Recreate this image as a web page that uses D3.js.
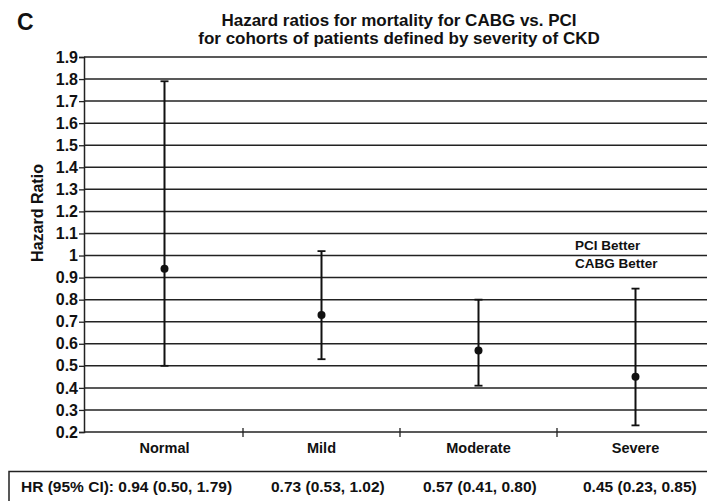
<!DOCTYPE html>
<html>
<head>
<meta charset="utf-8">
<script src="https://cdn.jsdelivr.net/npm/d3@7"></script>
<style>
  body { margin: 0; background: #fff; }
  text { font-family: "Liberation Sans", Arial, sans-serif; font-weight: bold; fill: #111; }
</style>
</head>
<body>
<div id="chart"></div>
<script>
// chart data
var categories = ["Normal", "Mild", "Moderate", "Severe"];
var hr = [0.94, 0.73, 0.57, 0.45];
var lower = [0.50, 0.53, 0.41, 0.23];
var upper = [1.79, 1.02, 0.80, 0.85];
var yTicks = [0.2, 0.3, 0.4, 0.5, 0.6, 0.7, 0.8, 0.9, 1, 1.1, 1.2, 1.3, 1.4, 1.5, 1.6, 1.7, 1.8, 1.9];
var tableLabels = ["HR (95% CI): 0.94 (0.50, 1.79)", "0.73 (0.53, 1.02)", "0.57 (0.41, 0.80)", "0.45 (0.23, 0.85)"];

var svgWidth = 707;
var svgHeight = 501;

var margin = { top: 57, left: 84 };
var bandWidth = 157;
var chartHeight = 375;

var svg = d3.select("#chart")
  .append("svg")
  .attr("width", svgWidth)
  .attr("height", svgHeight);

// panel letter and title
svg.append("text")
  .attr("x", 17).attr("y", 30)
  .attr("font-size", "23px")
  .text("C");

svg.append("text")
  .attr("x", 399).attr("y", 26)
  .attr("text-anchor", "middle")
  .attr("font-size", "17px")
  .text("Hazard ratios for mortality for CABG vs. PCI");

svg.append("text")
  .attr("x", 399).attr("y", 44)
  .attr("text-anchor", "middle")
  .attr("font-size", "17px")
  .text("for cohorts of patients defined by severity of CKD");

var chartGroup = svg.append("g")
  .attr("transform", `translate(${margin.left}, ${margin.top})`);

var xScale = d3.scaleBand()
  .domain(categories)
  .range([2, 2 + bandWidth * categories.length]);

var yScale = d3.scaleLinear()
  .domain([0.2, 1.9])
  .range([chartHeight, 0]);

// horizontal gridlines
chartGroup.selectAll(".grid")
  .data(yTicks)
  .enter()
  .append("line")
  .attr("x1", 0)
  .attr("x2", svgWidth)
  .attr("y1", d => yScale(d))
  .attr("y2", d => yScale(d))
  .attr("stroke", "#222")
  .attr("stroke-width", 1.5);

// left axis
var leftAxis = d3.axisLeft(yScale)
  .tickValues(yTicks)
  .tickFormat(d => String(d))
  .tickSize(5);

var yAxisG = chartGroup.append("g").call(leftAxis);
yAxisG.select(".domain").attr("stroke", "#222").attr("stroke-width", 1.5);
yAxisG.selectAll(".tick line").attr("stroke", "#222").attr("stroke-width", 1.3);
yAxisG.selectAll(".tick text")
  .attr("font-size", "16px")
  .attr("font-family", "Liberation Sans, Arial, sans-serif")
  .attr("font-weight", "bold")
  .attr("fill", "#111")
  .attr("x", -6);

// bottom axis with category separators
var bottomAxis = d3.axisBottom(xScale).tickSize(0).tickPadding(11);
var xAxisG = chartGroup.append("g")
  .attr("transform", `translate(0, ${chartHeight})`)
  .call(bottomAxis);
xAxisG.select(".domain").remove();
xAxisG.selectAll(".tick text")
  .attr("font-size", "14.5px")
  .attr("font-family", "Liberation Sans, Arial, sans-serif")
  .attr("font-weight", "bold")
  .attr("fill", "#111");

chartGroup.selectAll(".sep")
  .data(categories.slice(1))
  .enter()
  .append("line")
  .attr("x1", d => xScale(d))
  .attr("x2", d => xScale(d))
  .attr("y1", chartHeight - 4)
  .attr("y2", chartHeight + 5)
  .attr("stroke", "#222")
  .attr("stroke-width", 1.3);

// y-axis label
chartGroup.append("text")
  .attr("transform", "rotate(-90)")
  .attr("x", -(213 - margin.top))
  .attr("y", -41)
  .attr("text-anchor", "middle")
  .attr("font-size", "16px")
  .text("Hazard Ratio");

// error bars
var errGroup = chartGroup.selectAll(".err")
  .data(categories)
  .enter()
  .append("g")
  .attr("transform", d => `translate(${xScale(d) + xScale.bandwidth() / 2}, 0)`);

errGroup.append("line")
  .attr("y1", (d, i) => yScale(lower[i]))
  .attr("y2", (d, i) => yScale(upper[i]))
  .attr("stroke", "#111")
  .attr("stroke-width", 2);

errGroup.append("line")
  .attr("x1", -4).attr("x2", 4)
  .attr("y1", (d, i) => yScale(upper[i]))
  .attr("y2", (d, i) => yScale(upper[i]))
  .attr("stroke", "#111")
  .attr("stroke-width", 1.8);

errGroup.append("line")
  .attr("x1", -4).attr("x2", 4)
  .attr("y1", (d, i) => yScale(lower[i]))
  .attr("y2", (d, i) => yScale(lower[i]))
  .attr("stroke", "#111")
  .attr("stroke-width", 1.8);

errGroup.append("circle")
  .attr("cy", (d, i) => yScale(hr[i]))
  .attr("r", 4)
  .attr("fill", "#111");

// region notes
chartGroup.append("text")
  .attr("x", 575 - margin.left)
  .attr("y", yScale(1) - 6)
  .attr("font-size", "13.5px")
  .text("PCI Better");

chartGroup.append("text")
  .attr("x", 575 - margin.left)
  .attr("y", yScale(1) + 12)
  .attr("font-size", "13.5px")
  .text("CABG Better");

// table of HR values under the chart
svg.append("rect")
  .attr("x", 9).attr("y", 471.5)
  .attr("width", 720).attr("height", 60)
  .attr("fill", "none")
  .attr("stroke", "#222")
  .attr("stroke-width", 1.5);

var tableX = [21, 271, 423, 583];
svg.selectAll(".tbl")
  .data(tableLabels)
  .enter()
  .append("text")
  .attr("x", (d, i) => tableX[i])
  .attr("y", 492)
  .attr("font-size", "15.5px")
  .text(d => d);
</script>
</body>
</html>
